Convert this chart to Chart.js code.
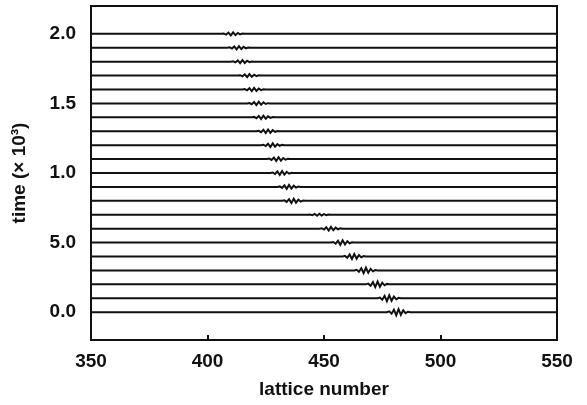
<!DOCTYPE html>
<html>
<head>
<meta charset="utf-8">
<script src="https://cdn.jsdelivr.net/npm/chart.js@4.4.0/dist/chart.umd.min.js"></script>
<style>
  html, body { margin: 0; padding: 0; background: #fff; }
  #wrap { width: 587px; height: 405px; }
</style>
</head>
<body>
<div id="wrap"><canvas id="myChart" width="587" height="405"></canvas></div>
<script>
// time of each snapshot (x 10^3) and where the packet sits on the lattice
const times = [0.0, 0.1, 0.2, 0.3, 0.4, 0.5, 0.6, 0.7, 0.8, 0.9, 1.0, 1.1, 1.2, 1.3, 1.4, 1.5, 1.6, 1.7, 1.8, 1.9, 2.0];
const packetCenters = [482, 478, 473, 468, 463, 458, 453, 448, 437, 435, 432, 430.5, 428, 426, 424, 422, 420, 418, 415, 413.5, 411];
const packetAmps = [0.022, 0.021, 0.020, 0.019, 0.018, 0.016, 0.013, 0.007, 0.015, 0.014, 0.014, 0.013, 0.013, 0.013, 0.012, 0.012, 0.012, 0.011, 0.011, 0.011, 0.011];

// displacement profile of the packet, per lattice site around its centre
const packetOffsets = [-5, -4, -3, -2, -1, 0, 1, 2, 3, 4, 5];
const packetShape = [0, 0.25, -0.5, 0.8, -1, 1, -0.85, 0.6, -0.35, 0.15, 0];

const xTicks = [350, 400, 450, 500, 550];
const yTicks = [0.0, 0.5, 1.0, 1.5, 2.0];
const yTickLabels = ['0.0', '5.0', '1.0', '1.5', '2.0'];

const xMin = 350, xMax = 550;

// one line per snapshot: flat chain with the packet riding on it
const datasets = times.map((t, i) => {
  let pts = [{x: xMin, y: t}];
  packetOffsets.forEach((off, k) => {
    pts.push({x: packetCenters[i] + off, y: t + packetAmps[i] * packetShape[k]});
  });
  pts.push({x: xMax, y: t});
  return {
    data: pts,
    showLine: true,
    borderColor: '#111',
    borderWidth: 2,
    pointRadius: 0,
    tension: 0
  };
});

const font = {family: "'Liberation Sans', Arial, Helvetica, sans-serif", size: 19, weight: 'bold'};

// frame plus small inward ticks on the bottom edge
const frame = {
  id: 'frame',
  afterDraw(chart) {
    const ctx = chart.ctx;
    const a = chart.chartArea;
    const xs = chart.scales.x;
    ctx.save();
    ctx.strokeStyle = '#111';
    ctx.lineWidth = 2;
    ctx.strokeRect(a.left, a.top, a.right - a.left, a.bottom - a.top);
    xTicks.slice(1, -1).forEach(v => {
      const px = Math.round(xs.getPixelForValue(v));
      ctx.beginPath();
      ctx.moveTo(px, a.bottom);
      ctx.lineTo(px, a.bottom - 5);
      ctx.stroke();
    });
    ctx.restore();
  }
};

const config = {
  type: 'scatter',
  data: {datasets: datasets},
  options: {
    responsive: false,
    animation: false,
    events: [],
    layout: {padding: {left: 0, right: 30, top: 6, bottom: 0}},
    plugins: {
      legend: {display: false},
      tooltip: {enabled: false}
    },
    scales: {
      x: {
        type: 'linear',
        min: xMin,
        max: xMax,
        afterBuildTicks: scale => { scale.ticks = xTicks.map(v => ({value: v})); },
        afterFit: scale => { scale.height = 65; scale.paddingLeft = 0; scale.paddingRight = 0; },
        grid: {display: false, drawTicks: false},
        border: {display: false},
        ticks: {color: '#111', font: font, padding: 10, maxRotation: 0},
        title: {display: true, text: 'lattice number', color: '#111', font: font, padding: {top: 0, bottom: 4}}
      },
      y: {
        type: 'linear',
        min: -0.2,
        max: 2.2,
        afterBuildTicks: scale => { scale.ticks = yTicks.map(v => ({value: v})); },
        afterFit: scale => { scale.width = 91; scale.paddingTop = 0; scale.paddingBottom = 0; },
        grid: {display: false, drawTicks: false},
        border: {display: false},
        ticks: {
          color: '#111',
          font: font,
          padding: 15,
          callback: (v) => yTickLabels[yTicks.indexOf(v)]
        },
        title: {display: true, text: 'time (\u00d7 10\u00b3)', color: '#111', font: font, padding: {top: 8, bottom: 0}}
      }
    }
  },
  plugins: [frame]
};

const myChart = new Chart(document.getElementById('myChart'), config);
</script>
</body>
</html>
